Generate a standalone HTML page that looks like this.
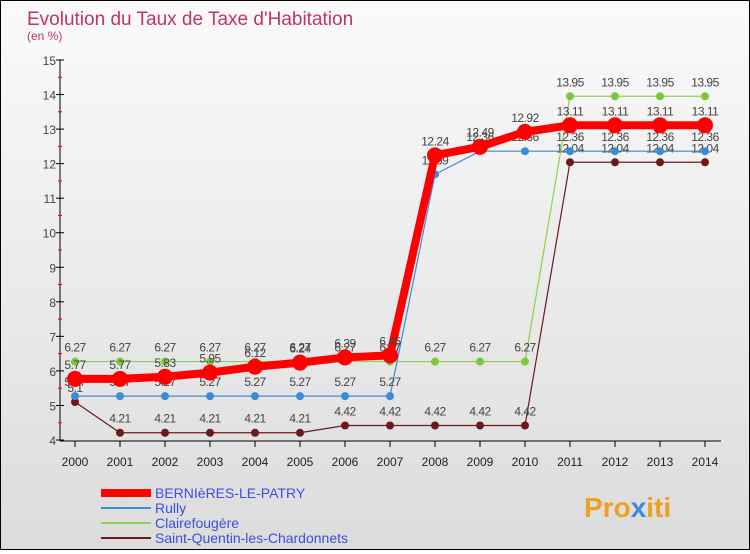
<!DOCTYPE html>
<html><head><meta charset="utf-8"><style>
html,body{margin:0;padding:0}
body{width:750px;height:550px;overflow:hidden;font-family:"Liberation Sans",sans-serif}
#wrap{position:relative;width:748px;height:548px;border:1px solid #000;background:linear-gradient(#fafafa,#dcdcdc)}
</style></head><body>
<div id="wrap">
<svg id="chart" width="748" height="548">
<text x="26" y="24" font-size="19" fill="#c0336a">Evolution du Taux de Taxe d'Habitation</text>
<text x="26" y="39" font-size="12" fill="#c0336a">(en %)</text>
<g id="axes"></g><g id="series"></g><g id="legend"></g>
<text x="583" y="516" font-size="28" font-weight="bold" fill="#f0a020">Pro<tspan fill="#3a8bd8">x</tspan>iti</text>
</svg></div>
<script>
const years=[2000,2001,2002,2003,2004,2005,2006,2007,2008,2009,2010,2011,2012,2013,2014];
const yTicks=[4,5,6,7,8,9,10,11,12,13,14,15];
const bernieres=[5.77,5.77,5.83,5.95,6.12,6.24,6.39,6.45,12.24,12.49,12.92,13.11,13.11,13.11,13.11];
const rully=[5.27,5.27,5.27,5.27,5.27,5.27,5.27,5.27,11.69,12.36,12.36,12.36,12.36,12.36,12.36];
const claire=[6.27,6.27,6.27,6.27,6.27,6.27,6.27,6.27,6.27,6.27,6.27,13.95,13.95,13.95,13.95];
const stq=[5.1,4.21,4.21,4.21,4.21,4.21,4.42,4.42,4.42,4.42,4.42,12.04,12.04,12.04,12.04];
const seriesNames=["BERNIèRES-LE-PATRY","Rully","Clairefougère","Saint-Quentin-les-Chardonnets"];
const NS="http://www.w3.org/2000/svg";
const x=i=>74+i*45, y=v=>439-(v-4)*(380/11);
function mk(tag,attrs,parent,txt){const e=document.createElementNS(NS,tag);for(const k in attrs)e.setAttribute(k,attrs[k]);if(txt!==undefined)e.textContent=txt;parent.appendChild(e);return e;}
const ax=document.getElementById('axes');
let e=mk('line',{x1:59,y1:59,x2:59,y2:440,stroke:'#000'},ax);


e=mk('line',{x1:59,y1:440,x2:720,y2:440,stroke:'#000'},ax);


yTicks.forEach(t=>{mk('line',{x1:55,y1:y(t),x2:63,y2:y(t),stroke:'#000'},ax);
 if(t<15)mk('line',{x1:57,y1:y(t+0.5),x2:61,y2:y(t+0.5),stroke:'#e00'},ax);
 e=mk('text',{x:55,y:y(t)+5,'font-size':12,fill:'#444','text-anchor':'end'},ax,t);
 
 });
years.forEach((yr,i)=>{mk('line',{x1:x(i),y1:440,x2:x(i),y2:446,stroke:'#000'},ax);
 e=mk('text',{x:x(i),y:465,'font-size':12,fill:'#222','text-anchor':'middle'},ax,yr);
 
 });
const sg=document.getElementById('series');
const defs=[[stq,'#6b1a1a','#6b1a1a',1.2,4,'stq'],[claire,'#8fd14f','#7cc83a',1.2,4,'clairefougere'],[rully,'#3a8bd8','#3a8bd8',1.2,4,'rully'],[bernieres,'#f00','#f00',8,8,'bernieres']];
defs.forEach(([d,c,fc,w,r,n])=>{
 const g=mk('g',{},sg);
 
 
 const p=mk('polyline',{points:d.map((v,i)=>x(i)+','+y(v)).join(' '),fill:'none',stroke:c,'stroke-width':w},g);
 
 
 d.forEach((v,i)=>{const pt=mk('circle',{cx:x(i),cy:y(v),r:r,fill:fc},g);
  
  
  const t=mk('text',{x:x(i),y:y(v)-10,'font-size':12,fill:'#444','text-anchor':'middle','letter-spacing':'-0.5'},g,v);
  
  });
});
const lg=document.getElementById('legend');
const lc=[['#f00',8],['#3a8bd8',2],['#8fd14f',2],['#6b1a1a',2]];
seriesNames.forEach((s,i)=>{const yy=492+i*15;
 const l=mk('line',{x1:100,y1:yy,x2:150,y2:yy,stroke:lc[i][0],'stroke-width':lc[i][1]},lg);
 
 
 const t=mk('text',{x:154,y:yy+5,'font-size':14,fill:'#3b4fe0'},lg,s);
 
 });
</script></body></html>
